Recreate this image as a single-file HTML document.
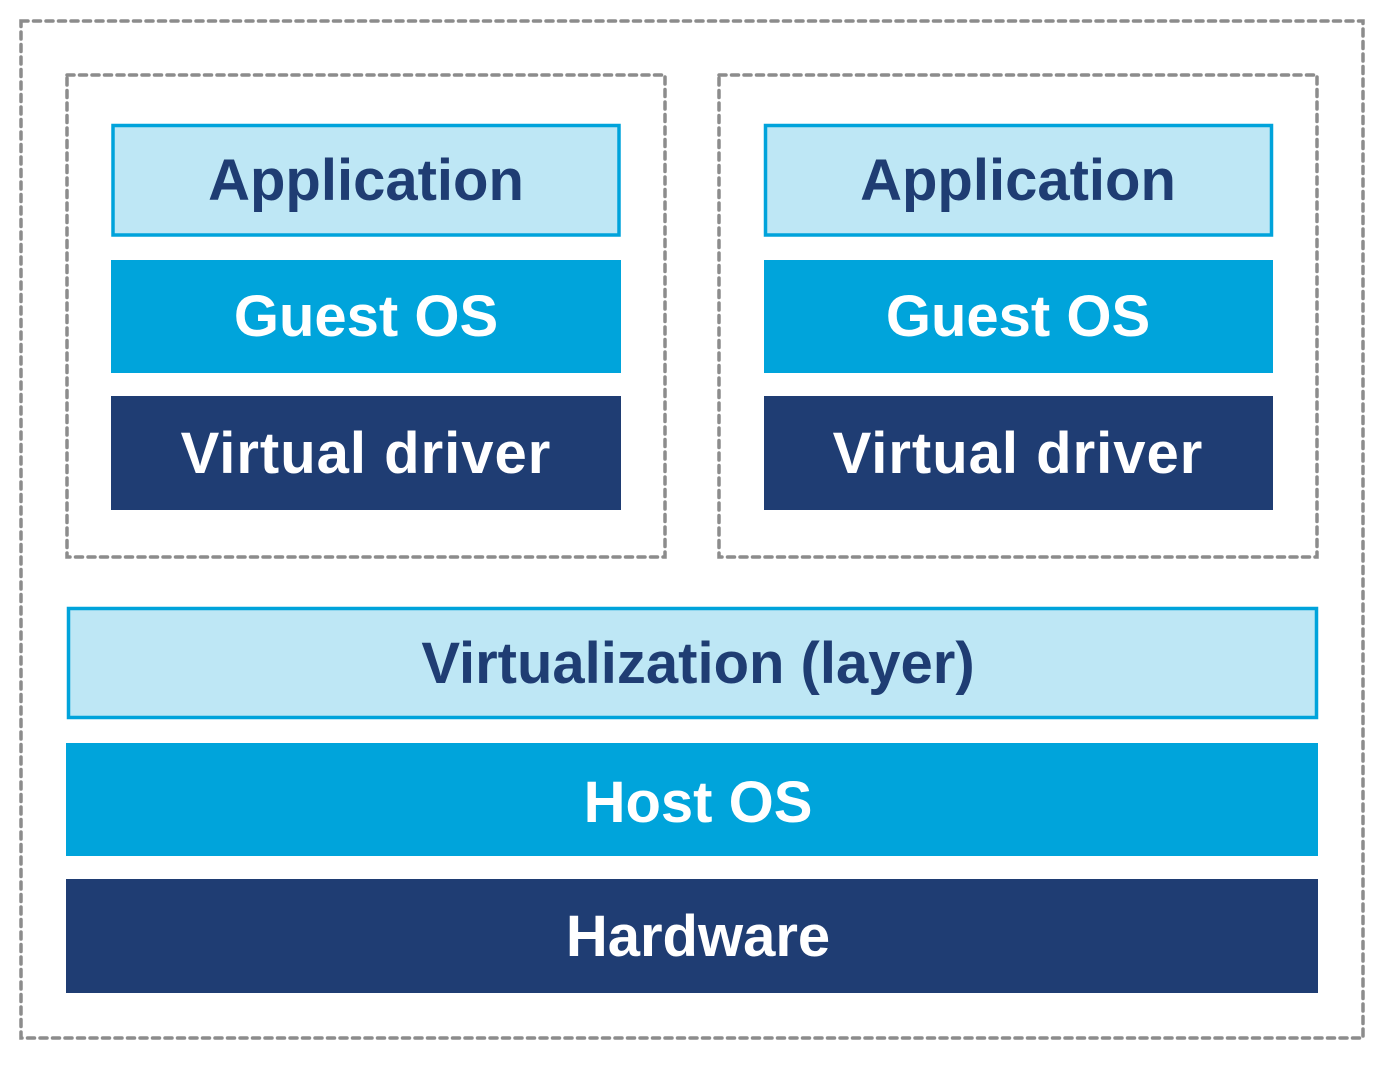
<!DOCTYPE html>
<html><head><style>
body{margin:0;width:1385px;height:1060px;background:#fff;overflow:hidden}
</style></head><body>
<svg width="1385" height="1060" xmlns="http://www.w3.org/2000/svg" font-family="Liberation Sans, Arial, sans-serif" font-weight="bold" font-size="58" text-anchor="middle">
<g fill="none" stroke="#8c8c8c" stroke-width="3.5" stroke-dasharray="7 5.5" stroke-linecap="round">
<rect x="21" y="21" width="1342" height="1017"/>
<rect x="67" y="75" width="598" height="482"/>
<rect x="719" y="75" width="598" height="482"/>
</g>
<rect x="113" y="125.5" width="506" height="109.5" fill="#bee7f5" stroke="#00a3db" stroke-width="3.5"/>
<rect x="765.5" y="125.5" width="506" height="109.5" fill="#bee7f5" stroke="#00a3db" stroke-width="3.5"/>
<rect x="111" y="260" width="510" height="113" fill="#00a4db"/>
<rect x="764" y="260" width="509" height="113" fill="#00a4db"/>
<rect x="111" y="396" width="510" height="114" fill="#1f3d73"/>
<rect x="764" y="396" width="509" height="114" fill="#1f3d73"/>
<rect x="68.5" y="608.5" width="1248" height="109" fill="#bee7f5" stroke="#00a3db" stroke-width="3.5"/>
<rect x="66" y="743" width="1252" height="113" fill="#00a4db"/>
<rect x="66" y="879" width="1252" height="114" fill="#1f3d73"/>
<g fill="#1f3d73">
<text x="366" y="200">Application</text>
<text x="1018" y="200">Application</text>
<text x="698" y="683">Virtualization (layer)</text>
</g>
<g fill="#fff">
<text x="366" y="336">Guest OS</text>
<text x="1018" y="336">Guest OS</text>
<text x="366" y="473" letter-spacing="1">Virtual driver</text>
<text x="1018" y="473" letter-spacing="1">Virtual driver</text>
<text x="698" y="822">Host OS</text>
<text x="698" y="956">Hardware</text>
</g>
</svg>
</body></html>
